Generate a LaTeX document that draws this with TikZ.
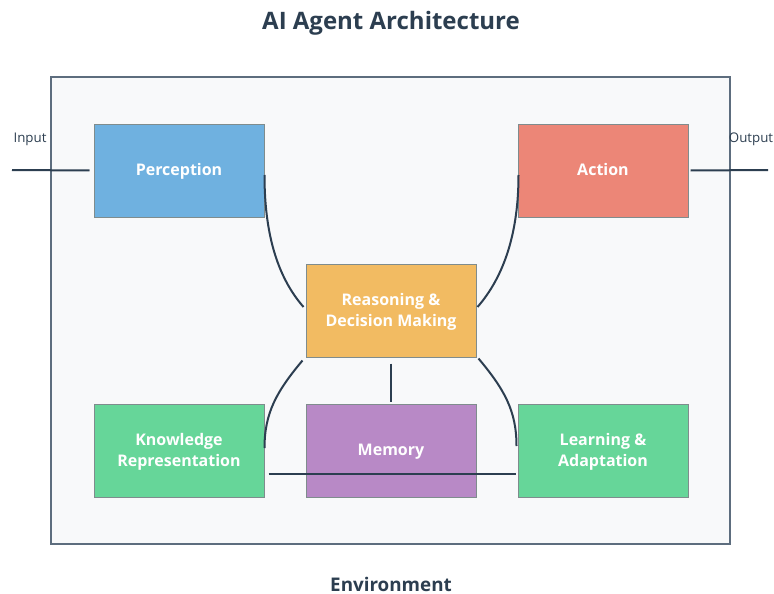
\documentclass[tikz,border=0pt]{standalone}
\usepackage{fontspec}
\setmainfont{Open Sans}
\definecolor{ink}{HTML}{2C3E50}
\definecolor{frame}{HTML}{5D6D7E}
\definecolor{bg}{HTML}{F8F9FA}
\definecolor{edge}{HTML}{7F8C8D}
\definecolor{cperc}{HTML}{6FB1E0}
\definecolor{cact}{HTML}{EC8677}
\definecolor{creas}{HTML}{F2BB62}
\definecolor{cgreen}{HTML}{66D699}
\definecolor{cmem}{HTML}{B889C6}
\begin{document}
\begin{tikzpicture}[x=1pt,y=-1pt,
  box/.style={draw=edge,line width=1pt,minimum width=170pt,minimum height=93pt,inner sep=0pt,
    text=white,font=\fontsize{16}{21}\selectfont\bfseries,align=center,text depth=1.5pt},
  link/.style={draw=ink,line width=2pt},
  lbl/.style={text=ink,font=\fontsize{13.3}{16}\selectfont}]
\useasboundingbox (0,0) rectangle (774,594);
\fill[white] (0,0) rectangle (774,594);
\node[draw=frame,fill=bg,line width=2.5pt,minimum width=679pt,minimum height=467pt,inner sep=0pt] (env) at (390.5,310.5) {};
\node[text=ink,font=\fontsize{24}{28}\selectfont\bfseries] (title) at (391,23) {AI Agent Architecture};
\node[text=ink,font=\fontsize{18.8}{22}\selectfont\bfseries] (envl) at (391,584) {Environment};
\node[box,fill=cperc] (perc) at (179,170.5) {Perception};
\node[box,fill=cact] (act) at (603,170.5) {Action};
\node[box,fill=creas] (reas) at (391,310.5) {Reasoning \&\\Decision Making};
\node[box,fill=cgreen] (know) at (179,450.5) {Knowledge\\Representation};
\node[box,fill=cmem] (mem) at (391,450.5) {Memory};
\node[box,fill=cgreen] (learn) at (603,450.5) {Learning \&\\Adaptation};
\node[lbl] (inl) at (30,139.5) {Input};
\node[lbl] (outl) at (751,139.5) {Output};
\coordinate (inend) at (12,170);
\coordinate (outend) at (768,170);
\draw[link] (inend) -- ([xshift=-4pt]perc.west);
\draw[link] ([xshift=2pt]act.east) -- (outend);
\draw[link] ([yshift=-4.5pt]perc.east) .. controls +(0,57) and +(-27,-31) .. ([xshift=-2pt,yshift=3.5pt]reas.west);
\draw[link] ([xshift=1pt,yshift=-4.5pt]act.west) .. controls +(0,57) and +(27,-31) .. ([xshift=1pt,yshift=3.5pt]reas.east);
\draw[link] ([xshift=-3pt,yshift=-50pt]reas.west) .. controls +(-26,31) and +(0,-35) .. ([yshift=2.5pt]know.east);
\draw[link] ([xshift=2pt,yshift=-48pt]reas.east) .. controls +(26,31) and +(0,-35) .. ([xshift=-1pt,yshift=4.5pt]learn.west);
\draw[link] ([yshift=-6pt]reas.south) -- ([yshift=2pt]mem.north);
\draw[link] ([xshift=4pt,yshift=-23.5pt]know.east) -- ([xshift=-2pt,yshift=-23.5pt]learn.west);
\end{tikzpicture}
\end{document}
